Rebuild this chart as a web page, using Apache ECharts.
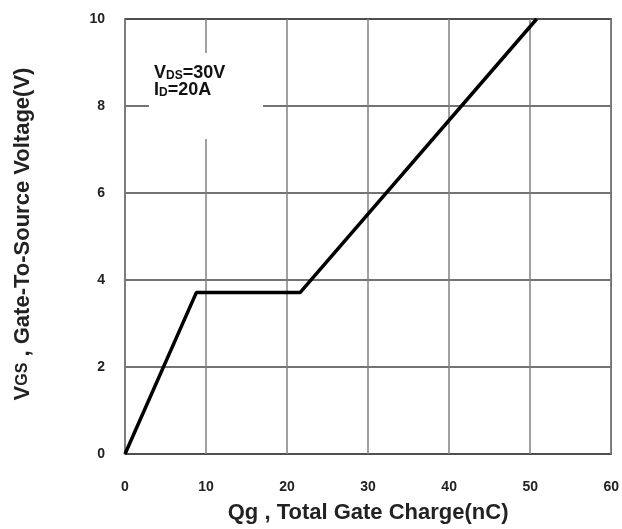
<!DOCTYPE html>
<html><head><meta charset="utf-8">
<script src="https://cdn.jsdelivr.net/npm/echarts@6/dist/echarts.min.js"></script>
<style>html,body{margin:0;padding:0;background:#fff}#c{width:622px;height:529px}</style>
</head><body><div id="c"></div>
<script>
const qg = [0, 8.8, 21.6, 50.8];
const vgs = [0, 3.71, 3.71, 10];
const xTicks = [0, 10, 20, 30, 40, 50, 60];
const yTicks = [0, 2, 4, 6, 8, 10];

const chart = echarts.init(document.getElementById('c'));
const F = 'Liberation Sans, Arial, sans-serif';
chart.setOption({
  animation: false,
  grid: {left: 125, right: 10, top: 19, bottom: 74, show: true, borderColor: '#444', borderWidth: 1.5},
  xAxis: {
    type: 'value', min: 0, max: 60, interval: 10,
    name: 'Qg , Total Gate Charge(nC)', nameLocation: 'middle', nameGap: 48,
    nameTextStyle: {fontFamily: F, fontWeight: 'bold', fontSize: 22, color: '#222'},
    axisLine: {show: false}, axisTick: {show: false},
    axisLabel: {margin: 26, fontFamily: F, fontWeight: 'bold', fontSize: 14, color: '#222'},
    splitLine: {lineStyle: {color: '#808080', width: 1.5}}
  },
  yAxis: {
    type: 'value', min: 0, max: 10, interval: 2,
    axisLine: {show: false}, axisTick: {show: false},
    axisLabel: {margin: 20, fontFamily: F, fontWeight: 'bold', fontSize: 14, color: '#222'},
    splitLine: {lineStyle: {color: '#444', width: 1.5}}
  },
  series: [{
    type: 'line', data: qg.map((x, i) => [x, vgs[i]]), symbol: 'none',
    lineStyle: {color: '#000', width: 3.5}, z: 5
  }],
  graphic: [
    {type: 'rect', shape: {x: 149, y: 53, width: 114, height: 86}, style: {fill: '#fff'}, z: 10},
    {type: 'text', left: 154, top: 64, z: 11, style: {
      text: '{a|V}{s|DS}{a|=30V}\n{a|I}{s|D}{a|=20A}',
      rich: {
        a: {fontFamily: F, fontWeight: 'bold', fontSize: 18, fill: '#111', lineHeight: 17},
        s: {fontFamily: F, fontWeight: 'bold', fontSize: 12, fill: '#111', verticalAlign: 'bottom', lineHeight: 6}
      }
    }},
    {type: 'text', x: 23, y: 234, rotation: Math.PI / 2, z: 11, style: {
      text: '{a|V}{s|GS}{a| , Gate-To-Source Voltage(V)}', align: 'center', verticalAlign: 'middle',
      rich: {
        a: {fontFamily: F, fontWeight: 'bold', fontSize: 22, fill: '#222'},
        s: {fontFamily: F, fontWeight: 'bold', fontSize: 16, fill: '#222'}
      }
    }}
  ]
});
</script></body></html>
